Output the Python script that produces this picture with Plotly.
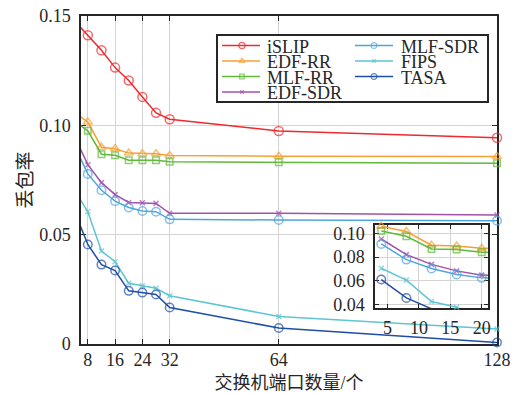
import plotly.graph_objects as go

# Switch port counts (x) and packet-loss rates for each scheduler
ports = [4, 8, 12, 16, 20, 24, 28, 32, 64, 128]

islip   = [0.1480, 0.1412, 0.1343, 0.1264, 0.1205, 0.1130, 0.1057, 0.1028, 0.0974, 0.0943]
edf_rr  = [0.1060, 0.1015, 0.0900, 0.0893, 0.0873, 0.0870, 0.0870, 0.0862, 0.0859, 0.0857]
mlf_rr  = [0.1020, 0.0975, 0.0868, 0.0863, 0.0840, 0.0840, 0.0840, 0.0833, 0.0831, 0.0827]
edf_sdr = [0.0952, 0.0820, 0.0738, 0.0683, 0.0647, 0.0646, 0.0643, 0.0598, 0.0598, 0.0590]
mlf_sdr = [0.0910, 0.0778, 0.0703, 0.0653, 0.0624, 0.0608, 0.0605, 0.0570, 0.0567, 0.0564]
fips    = [0.0705, 0.0605, 0.0425, 0.0376, 0.0278, 0.0266, 0.0255, 0.0221, 0.0126, 0.0069]
tasa    = [0.0610, 0.0455, 0.0363, 0.0336, 0.0243, 0.0235, 0.0226, 0.0167, 0.0073, 0.0007]

series_names = ["iSLIP", "EDF-RR", "MLF-RR", "EDF-SDR", "MLF-SDR", "FIPS", "TASA"]
series_vals = [islip, edf_rr, mlf_rr, edf_sdr, mlf_sdr, fips, tasa]

main_xticks = [8, 16, 24, 32, 64, 128]
main_yticks = [0, 0.05, 0.10, 0.15]
main_yticktext = ["0", "0.05", "0.10", "0.15"]
inset_xticks = [5, 10, 15, 20]
inset_yticks = [0.04, 0.06, 0.08, 0.10]
inset_yticktext = ["0.04", "0.06", "0.08", "0.10"]

x_title = "交换机端口数量/个"
y_title = "丢包率"

# Styles per series: colour, marker symbol, marker size
styles = [
    ("#EE2A2E", "circle-open", 9),
    ("#F8A033", "triangle-up-open", 8),
    ("#62B83A", "square-open", 6.5),
    ("#A052AE", "x-thin-open", 5),
    ("#4FA5DF", "circle-open", 8.5),
    ("#5CC6D2", "x-thin-open", 5),
    ("#1F4EA6", "circle-open", 8.5),
]

MAIN_X = [6, 128]
MAIN_Y = [0, 0.15]
INSET_X = [3, 21]
INSET_Y = [0.037, 0.107]

TXT = "#262626"
FONT = "Liberation Serif, Noto Sans CJK SC, serif"
GRID = "#D4D4D4"

fig = go.Figure()


def sizes_in(xs, ys, xr, yr, s):
    return [s if (xr[0] <= x <= xr[1] and yr[0] - 1e-9 <= y <= yr[1]) else 0
            for x, y in zip(xs, ys)]


# Main axes
for name, vals, (col, sym, ms) in zip(series_names, series_vals, styles):
    fig.add_trace(go.Scatter(
        x=ports, y=vals, name=name, mode="lines+markers",
        line=dict(color=col, width=1.5),
        marker=dict(symbol=sym, color=col, line=dict(color=col, width=1.5),
                    size=sizes_in(ports, vals, MAIN_X, [-1, 1], ms)),
        cliponaxis=False, showlegend=False, xaxis="x", yaxis="y"))

# Inset (zoom on small port counts)
for name, vals, (col, sym, ms) in zip(series_names, series_vals, styles):
    fig.add_trace(go.Scatter(
        x=ports, y=vals, name=name, mode="lines+markers",
        line=dict(color=col, width=1.5),
        marker=dict(symbol=sym, color=col, line=dict(color=col, width=1.5),
                    size=sizes_in(ports, vals, INSET_X, [INSET_Y[0] - 0.0015, INSET_Y[1]], ms)),
        cliponaxis=False, showlegend=False, xaxis="x2", yaxis="y2"))

# Legend box drawn as its own small axes: glyph samples + labels
LEG_W, LEG_H = 269, 65
rows = [9.5, 25, 40.5, 56]
cols = [(4, 24, 42, 47), (137, 156, 175, 181)]
annotations = []
for i, (name, (col, sym, ms)) in enumerate(zip(series_names, styles)):
    c = cols[0] if i < 4 else cols[1]
    r = rows[i] if i < 4 else rows[i - 4]
    fig.add_trace(go.Scatter(
        x=[c[0], c[1], c[2]], y=[r, r, r], mode="lines+markers",
        line=dict(color=col, width=1.5),
        marker=dict(symbol=sym, color=col, line=dict(color=col, width=1.2),
                    size=[0, ms * 0.7, 0]),
        showlegend=False, hoverinfo="skip", xaxis="x3", yaxis="y3"))
    annotations.append(dict(
        x=c[3], y=r + 1.5, xref="x3", yref="y3", text=name, showarrow=False,
        xanchor="left", yanchor="middle",
        font=dict(family=FONT, size=18, color=TXT)))

axis_common = dict(
    showline=True, linecolor=TXT, linewidth=1.5, mirror="ticks",
    ticks="inside", tickcolor=TXT, tickwidth=1, ticklen=5,
    showgrid=True, gridcolor=GRID, gridwidth=1, zeroline=False,
    tickfont=dict(family=FONT, size=18, color=TXT), layer="below traces",
    automargin=False,
)

fig.update_layout(
    width=516, height=393,
    margin=dict(l=81, r=19, t=16, b=49),
    paper_bgcolor="white", plot_bgcolor="white",
    showlegend=False,
    font=dict(family=FONT, color=TXT),
    xaxis=dict(axis_common, range=MAIN_X, tickvals=main_xticks,
               ticklabelstandoff=-1,
               title=dict(text=x_title, font=dict(family=FONT, size=18, color=TXT),
                          standoff=10)),
    yaxis=dict(axis_common, range=MAIN_Y, tickvals=main_yticks,
               ticktext=main_yticktext, ticklabelstandoff=5,
               title=dict(text=y_title, font=dict(family=FONT, size=19, color=TXT),
                          standoff=2)),
    xaxis2=dict(axis_common, domain=[0.7067, 0.9784], anchor="y2",
                range=INSET_X, tickvals=inset_xticks, ticklen=4,
                ticklabelstandoff=3),
    yaxis2=dict(axis_common, domain=[0.1098, 0.3628], anchor="x2",
                range=INSET_Y, tickvals=inset_yticks, ticktext=inset_yticktext,
                ticklen=4, ticklabelstandoff=5),
    xaxis3=dict(domain=[0.3293, 0.9760], anchor="y3", range=[0, LEG_W],
                showline=True, mirror=True, linecolor=TXT, linewidth=1.5,
                showgrid=False, zeroline=False, showticklabels=False, ticks=""),
    yaxis3=dict(domain=[0.7409, 0.939], anchor="x3", range=[LEG_H, 0],
                showline=True, mirror=True, linecolor=TXT, linewidth=1.5,
                showgrid=False, zeroline=False, showticklabels=False, ticks=""),
    annotations=annotations,
)

fig.write_html("out.html")
